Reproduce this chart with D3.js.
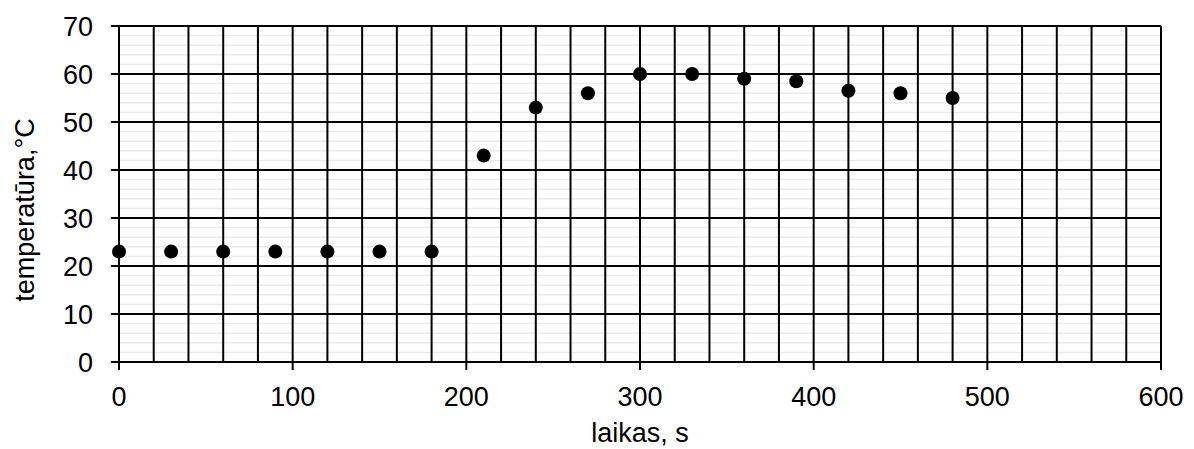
<!DOCTYPE html>
<html>
<head>
<meta charset="utf-8">
<script src="https://cdn.jsdelivr.net/npm/d3@7"></script>
<style>
  body { margin: 0; background: #fff; }
  text { font-family: "Liberation Sans", Arial, sans-serif; fill: #000; }
</style>
</head>
<body>
<svg id="container" width="1194" height="449"></svg>
<script>
const times = [0, 30, 60, 90, 120, 150, 180, 210, 240, 270, 300, 330, 360, 390, 420, 450, 480];
const temps = [23, 23, 23, 23, 23, 23, 23, 43, 53, 56, 60, 60, 59, 58.5, 56.5, 56, 55];
const xTicks = [0, 100, 200, 300, 400, 500, 600];
const yTicks = [0, 10, 20, 30, 40, 50, 60, 70];
const xLabel = "laikas, s";
const yLabel = "temperatūra,°C";

const svg = d3.select('#container');
const margin = { top: 26, right: 33, bottom: 87, left: 119 };
const width = 1194 - margin.left - margin.right;
const height = 449 - margin.top - margin.bottom;
const fontSize = 27;

const xScale = d3.scaleLinear().domain([0, 600]).range([0, width]);
const yScale = d3.scaleLinear().domain([0, 70]).range([height, 0]);

const g = svg.append('g')
    .attr('transform', 'translate(' + margin.left + ',' + margin.top + ')');

// minor horizontal grid every 2
g.append('g').selectAll('line')
    .data(d3.range(0, 71, 2).filter(v => v % 10 !== 0))
    .join('line')
    .attr('x1', 0).attr('x2', width)
    .attr('y1', d => yScale(d)).attr('y2', d => yScale(d))
    .attr('stroke', '#ebebeb').attr('stroke-width', 1.5);

// major horizontal grid every 10
g.append('g').selectAll('line')
    .data(yTicks)
    .join('line')
    .attr('x1', -8).attr('x2', width)
    .attr('y1', d => yScale(d)).attr('y2', d => yScale(d))
    .attr('stroke', '#000').attr('stroke-width', 2);

// vertical grid every 20
g.append('g').selectAll('line')
    .data(d3.range(0, 601, 20))
    .join('line')
    .attr('x1', d => xScale(d)).attr('x2', d => xScale(d))
    .attr('y1', 0).attr('y2', d => d % 100 === 0 ? height + 8 : height)
    .attr('stroke', '#000').attr('stroke-width', 2);

// tick labels
g.append('g').selectAll('text')
    .data(xTicks)
    .join('text')
    .attr('x', d => xScale(d)).attr('y', height + 44)
    .attr('text-anchor', 'middle')
    .attr('font-size', fontSize)
    .text(d => d);

g.append('g').selectAll('text')
    .data(yTicks)
    .join('text')
    .attr('x', -26).attr('y', d => yScale(d))
    .attr('dy', '0.36em')
    .attr('text-anchor', 'end')
    .attr('font-size', fontSize)
    .text(d => d);

// axis titles
svg.append('text')
    .attr('x', margin.left + width / 2).attr('y', 442)
    .attr('text-anchor', 'middle')
    .attr('font-size', fontSize)
    .text(xLabel);

svg.append('text')
    .attr('transform', 'translate(34,210) rotate(-90)')
    .attr('text-anchor', 'middle')
    .attr('font-size', fontSize)
    .text(yLabel);

// points
g.append('g').selectAll('circle')
    .data(times.map((t, i) => [t, temps[i]]))
    .join('circle')
    .attr('cx', d => xScale(d[0]))
    .attr('cy', d => yScale(d[1]))
    .attr('r', 7)
    .attr('fill', '#000');
</script>
</body>
</html>
